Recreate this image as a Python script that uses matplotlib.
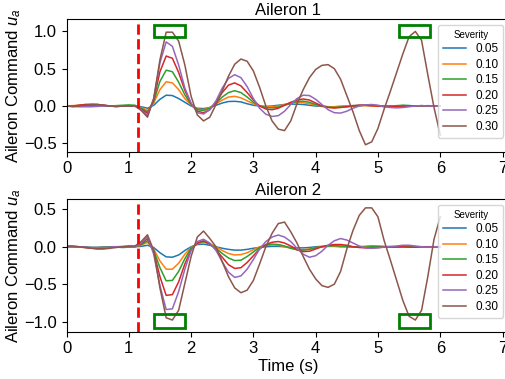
import numpy as np
import matplotlib
matplotlib.use("Agg")
import matplotlib.pyplot as plt
from matplotlib.patches import Rectangle

plt.rcParams['font.family'] = ['Liberation Sans', 'DejaVu Sans']
plt.rcParams['mathtext.fontset'] = 'custom'
plt.rcParams['mathtext.rm'] = 'Liberation Sans'
plt.rcParams['mathtext.it'] = 'Liberation Sans:italic'

# sample times (s)
t = np.round(np.arange(61) * 0.1, 1)
severity = [0.05, 0.10, 0.15, 0.20, 0.25, 0.30]
fault_time = 1.15

# Aileron 1
a1_005 = [0.0, 0.0, 0.005, 0.01, 0.01, 0.01, 0.005, 0.0, 0.0, 0.0, 0.0, 0.0,
          -0.01, -0.03, 0.01, 0.09, 0.145, 0.14, 0.1, 0.05, 0.0, -0.03, -0.035, -0.02,
          0.01, 0.04, 0.06, 0.063, 0.055, 0.03, 0.01, 0.0, -0.005, 0.0, 0.01, 0.02,
          0.025, 0.025, 0.02, 0.01, 0.0, -0.005, -0.01, -0.01, -0.005, 0.0, 0.005, 0.01,
          0.01, 0.005, 0.0, -0.005, -0.005, 0.0, 0.005, 0.005, 0.0, 0.0, 0.0, 0.0,
          0.0]
a1_010 = [0.0, 0.005, 0.01, 0.02, 0.025, 0.02, 0.01, 0.0, -0.005, 0.0, 0.0, 0.0,
          -0.02, -0.06, 0.04, 0.22, 0.325, 0.31, 0.22, 0.1, 0.01, -0.04, -0.05, -0.02,
          0.03, 0.08, 0.12, 0.13, 0.11, 0.07, 0.03, 0.0, -0.01, -0.01, 0.0, 0.02,
          0.04, 0.05, 0.045, 0.03, 0.01, 0.0, -0.01, -0.01, -0.005, 0.0, 0.005, 0.005,
          0.005, 0.0, -0.005, -0.005, 0.0, 0.0, 0.005, 0.0, 0.0, 0.0, 0.0, 0.0,
          0.0]
a1_015 = [0.0, 0.0, 0.005, 0.01, 0.015, 0.01, 0.005, 0.0, 0.005, 0.01, 0.015, 0.01,
          -0.03, -0.08, 0.06, 0.33, 0.48, 0.46, 0.32, 0.15, 0.02, -0.05, -0.06, -0.03,
          0.04, 0.12, 0.18, 0.205, 0.18, 0.12, 0.05, 0.0, -0.02, -0.025, -0.015, 0.01,
          0.04, 0.06, 0.065, 0.05, 0.02, 0.0, -0.015, -0.02, -0.015, -0.01, 0.0, 0.005,
          0.01, 0.01, 0.005, 0.0, 0.0, 0.005, 0.01, 0.005, 0.0, 0.0, 0.005, 0.0,
          0.0]
a1_020 = [0.0, 0.0, 0.01, 0.02, 0.02, 0.02, 0.01, 0.0, 0.0, 0.0, 0.0, 0.0,
          -0.04, -0.1, 0.08, 0.46, 0.67, 0.64, 0.45, 0.21, 0.03, -0.07, -0.09, -0.05,
          0.05, 0.18, 0.28, 0.31, 0.27, 0.18, 0.08, 0.0, -0.04, -0.05, -0.03, 0.01,
          0.05, 0.08, 0.094, 0.08, 0.04, 0.0, -0.02, -0.027, -0.02, -0.01, 0.0, 0.01,
          0.01, 0.005, 0.0, -0.005, -0.01, -0.01, -0.005, 0.0, 0.0, 0.005, 0.0, 0.0,
          0.0]
a1_025 = [0.0, -0.005, -0.01, -0.01, -0.01, -0.005, 0.0, 0.0, 0.0, 0.0, 0.0, 0.0,
          -0.05, -0.13, 0.1, 0.58, 0.86, 0.80, 0.55, 0.24, 0.04, -0.09, -0.107, -0.05,
          0.07, 0.24, 0.37, 0.42, 0.38, 0.26, 0.1, -0.03, -0.11, -0.14, -0.13, -0.07,
          0.02, 0.1, 0.145, 0.14, 0.09, 0.02, -0.05, -0.09, -0.095, -0.07, -0.03, 0.0,
          0.015, 0.02, 0.01, -0.01, -0.02, -0.025, -0.02, -0.01, 0.0, 0.005, 0.0, 0.0,
          0.0]
a1_030 = [0.0, -0.01, 0.0, 0.01, 0.02, 0.02, 0.01, 0.0, -0.01, 0.0, 0.0, 0.0,
          -0.06, -0.15, 0.1, 0.62, 0.99, 0.99, 0.87, 0.55, 0.13, -0.12, -0.2, -0.15,
          0.02, 0.2, 0.4, 0.56, 0.63, 0.6, 0.47, 0.25, 0.0, -0.2, -0.31, -0.33,
          -0.2, 0.03, 0.22, 0.38, 0.49, 0.545, 0.555, 0.5, 0.36, 0.14, -0.08, -0.33,
          -0.52, -0.48, -0.3, -0.04, 0.2, 0.45, 0.7, 0.93, 1.0, 0.88, 0.42, -0.02,
          -0.39]

# Aileron 2
a2_005 = [0.0, 0.0, 0.0, -0.005, -0.01, -0.01, -0.005, 0.0, 0.0, 0.0, 0.0, 0.0,
          0.005, 0.02, -0.01, -0.08, -0.135, -0.14, -0.11, -0.05, 0.0, 0.03, 0.035, 0.02,
          0.0, -0.02, -0.035, -0.045, -0.045, -0.035, -0.02, -0.01, 0.0, 0.005, 0.005, 0.0,
          -0.01, -0.015, -0.015, -0.01, 0.0, 0.005, 0.005, 0.005, 0.0, 0.0, -0.005, 0.0,
          0.005, 0.01, 0.005, 0.0, -0.005, -0.005, 0.0, 0.0, -0.005, 0.0, 0.0, 0.0,
          0.0]
a2_010 = [0.0, 0.0, -0.005, -0.01, -0.015, -0.015, -0.01, 0.0, 0.0, 0.005, 0.005, 0.0,
          0.02, 0.06, -0.03, -0.19, -0.3, -0.3, -0.22, -0.1, -0.01, 0.04, 0.06, 0.04,
          0.0, -0.05, -0.09, -0.11, -0.105, -0.08, -0.04, 0.0, 0.02, 0.025, 0.02, 0.0,
          -0.02, -0.035, -0.04, -0.03, -0.01, 0.0, 0.01, 0.01, 0.005, 0.0, -0.005, -0.005,
          0.0, 0.005, 0.0, -0.005, 0.0, 0.0, 0.005, 0.0, 0.0, 0.0, 0.0, 0.0,
          0.0]
a2_015 = [0.0, 0.0, 0.0, -0.005, -0.01, -0.01, -0.005, 0.0, -0.005, -0.01, -0.005, 0.0,
          0.03, 0.08, -0.05, -0.28, -0.455, -0.45, -0.33, -0.16, -0.02, 0.05, 0.07, 0.04,
          -0.02, -0.09, -0.15, -0.185, -0.18, -0.13, -0.07, -0.01, 0.02, 0.035, 0.03, 0.01,
          -0.02, -0.04, -0.045, -0.035, -0.015, 0.0, 0.01, 0.015, 0.01, 0.005, 0.0, -0.005,
          -0.005, 0.0, 0.005, 0.005, 0.0, -0.005, 0.0, 0.005, 0.0, 0.0, 0.0, 0.0,
          0.0]
a2_020 = [0.01, 0.005, 0.0, -0.01, -0.02, -0.025, -0.02, -0.01, 0.0, 0.0, 0.005, 0.005,
          0.04, 0.11, -0.07, -0.4, -0.65, -0.64, -0.47, -0.23, -0.04, 0.05, 0.08, 0.04,
          -0.04, -0.14, -0.24, -0.29, -0.28, -0.21, -0.12, -0.03, 0.03, 0.06, 0.07, 0.05,
          0.01, -0.04, -0.065, -0.06, -0.03, 0.0, 0.02, 0.03, 0.03, 0.02, 0.0, -0.01,
          -0.015, -0.015, -0.01, -0.005, 0.0, 0.0, 0.0, -0.005, -0.005, 0.0, 0.0, 0.0,
          0.0]
a2_025 = [0.0, 0.0, 0.0, -0.005, -0.01, -0.01, -0.01, -0.005, 0.0, 0.0, 0.0, 0.0,
          0.05, 0.135, -0.1, -0.52, -0.84, -0.83, -0.6, -0.3, -0.05, 0.07, 0.1, 0.05,
          -0.05, -0.2, -0.34, -0.41, -0.39, -0.3, -0.17, -0.03, 0.07, 0.13, 0.157, 0.13,
          0.07, -0.02, -0.1, -0.14, -0.12, -0.06, 0.02, 0.08, 0.11, 0.09, 0.05, 0.01,
          -0.015, -0.02, -0.015, -0.005, 0.005, 0.01, 0.02, 0.02, 0.01, 0.0, -0.005, 0.0,
          0.0]
a2_030 = [0.01, 0.01, 0.0, -0.01, -0.02, -0.03, -0.03, -0.02, -0.01, 0.0, 0.01, 0.01,
          0.07, 0.16, -0.05, -0.55, -0.95, -0.98, -0.85, -0.49, -0.13, 0.13, 0.21, 0.11,
          0.0, -0.2, -0.4, -0.55, -0.615, -0.58, -0.45, -0.23, 0.0, 0.18, 0.31, 0.33,
          0.2, 0.05, -0.13, -0.3, -0.43, -0.52, -0.543, -0.5, -0.33, -0.03, 0.22, 0.42,
          0.52, 0.52, 0.4, 0.08, -0.18, -0.45, -0.72, -0.93, -0.98, -0.85, -0.4, 0.1,
          0.40]

aileron1 = [a1_005, a1_010, a1_015, a1_020, a1_025, a1_030]
aileron2 = [a2_005, a2_010, a2_015, a2_020, a2_025, a2_030]

# saturation boxes (t_start, t_end, u_low, u_high)
boxes1 = [(1.40, 1.91, 0.93, 1.085), (5.33, 5.84, 0.93, 1.085)]
boxes2 = [(1.40, 1.91, -1.08, -0.905), (5.33, 5.84, -1.08, -0.905)]

fig = plt.figure(figsize=(5.05, 3.79), dpi=100)
ax1 = fig.add_axes([0.1317, 0.5997, 0.877, 0.350])
ax2 = fig.add_axes([0.1317, 0.1248, 0.877, 0.350])

panels = [(ax1, aileron1, boxes1, 'Aileron 1', (-0.613, 1.166)),
          (ax2, aileron2, boxes2, 'Aileron 2', (-1.136, 0.638))]

for ax, series, boxes, title, ylim in panels:
    for s, u in zip(severity, series):
        ax.plot(t, u, lw=1.1, label=f'{s:.2f}')
    ax.axvline(fault_time, color='red', ls='--', lw=2)
    for t0, t1, lo, hi in boxes:
        ax.add_patch(Rectangle((t0, lo), t1 - t0, hi - lo, fill=False,
                               edgecolor='green', lw=2, zorder=5))
    ax.set_xlim(0, 7.11)
    ax.set_ylim(*ylim)
    ax.set_xticks(range(8))
    ax.set_title(title, fontsize=12, pad=3)
    ax.set_ylabel('Aileron Command $u_a$', fontsize=12, labelpad=1)
    ax.tick_params(labelsize=12)
    ax.legend(title='Severity', fontsize=8.5, title_fontsize=7,
              loc='upper right', labelspacing=0.3)

ax1.set_yticks([-0.5, 0.0, 0.5, 1.0])
ax2.set_yticks([-1.0, -0.5, 0.0, 0.5])
ax2.set_xlabel('Time (s)', fontsize=12, labelpad=2)

fig.savefig('out.png', dpi=100)
